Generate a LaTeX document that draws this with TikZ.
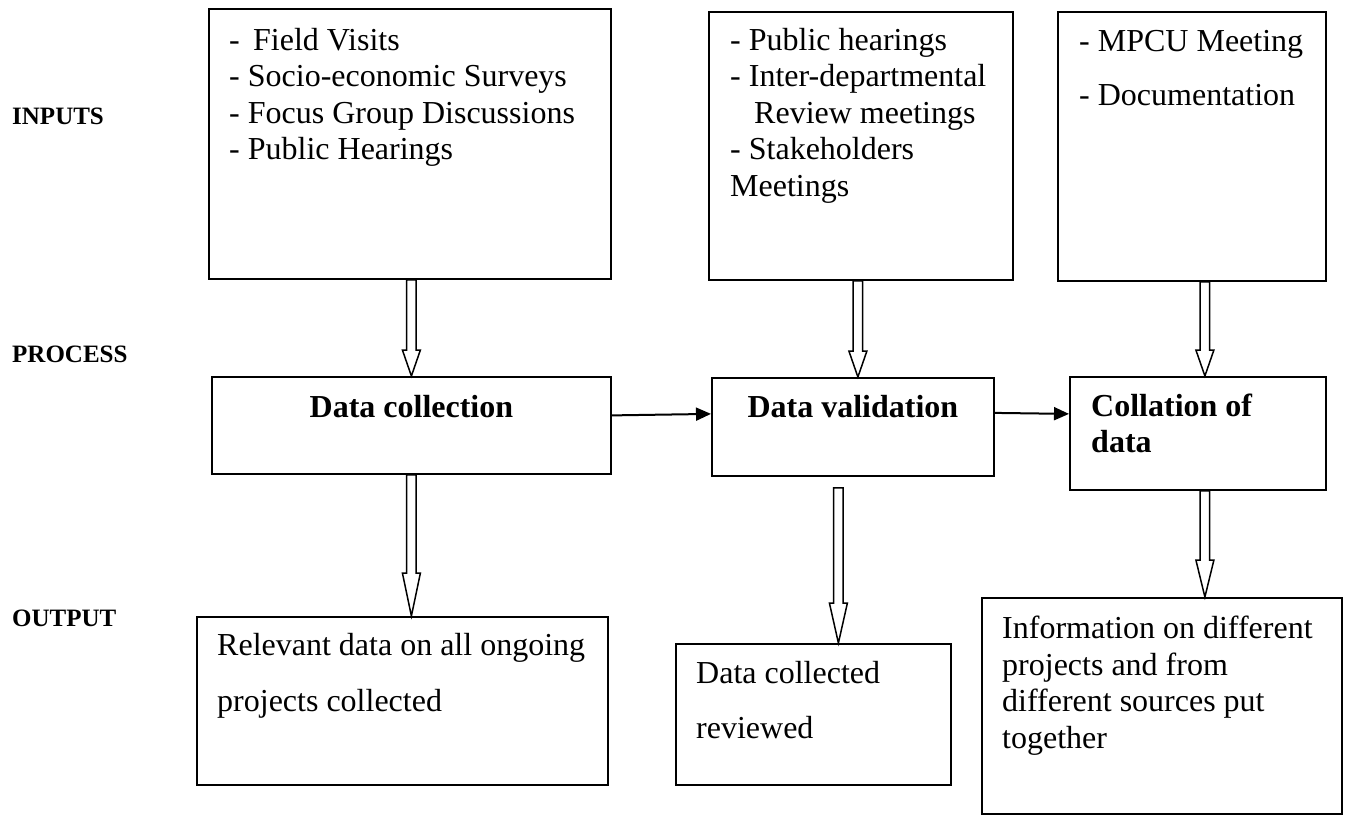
\documentclass[tikz,border=0pt]{standalone}
\usepackage{fontspec}
\setmainfont{Liberation Serif}
\usepackage{pgf,tikz}
\usetikzlibrary{arrows.meta,calc}

\tikzset{
  box/.style={draw, line width=1.8pt, anchor=north west, inner sep=0pt},
  hollow/.style={line width=1.5pt, line join=miter, fill=white},
  txt/.style={anchor=north west, inner sep=0pt, align=left, font=\fontsize{32}{36.5}\selectfont},
  bold/.style={inner sep=0pt, font=\fontsize{32}{36}\selectfont\bfseries},
  lbl/.style={anchor=base west, inner sep=0pt, font=\fontsize{25}{30}\selectfont\bfseries}
}

% open block arrow: #1 start, #2 tip, #3 head length
\newcommand{\blockarrow}[3]{%
  \draw[hollow] let \p1=(#1), \p2=(#2) in
    (\x2-4.8pt,\y1) -- (\x2-4.8pt,\y2+#3) -- (\x2-9pt,\y2+#3) -- (\x2,\y2)
    -- (\x2+9pt,\y2+#3) -- (\x2+4.8pt,\y2+#3) -- (\x2+4.8pt,\y1) -- cycle;}

\begin{document}
\begin{tikzpicture}[x=1pt,y=-1pt,>={Triangle[length=15pt,width=13pt]}]
\useasboundingbox (0,0) rectangle (1347,817);
% row labels
\node[lbl] (inputs) at (12,124) {INPUTS};
\node[lbl] (process) at (12,362) {PROCESS};
\node[lbl] (output) at (12,626) {OUTPUT};
% inputs
\node[box, minimum width=402pt, minimum height=270pt] (in1) at (208,8) {};
\node[box, minimum width=304pt, minimum height=268pt] (in2) at (708,11) {};
\node[box, minimum width=268pt, minimum height=269pt] (in3) at (1057,11) {};
\node[txt] (in1txt) at (229,28) {- \,Field Visits\\- Socio-economic Surveys\\- Focus Group Discussions\\- Public Hearings};
\node[txt] (in2txt) at (730,28) {- Public hearings\\- Inter-departmental\\\hspace*{24pt}Review meetings\\- Stakeholders\\Meetings};
\node[txt, font=\fontsize{32}{54}\selectfont] (in3txt) at (1079,30) {- MPCU Meeting\\- Documentation};
% process
\node[box, minimum width=399pt, minimum height=97pt] (p1) at (211,376) {};
\node[box, minimum width=282pt, minimum height=98pt] (p2) at (711,377) {};
\node[box, minimum width=256pt, minimum height=113pt] (p3) at (1069,376) {};
\node[bold, anchor=base] (p1txt) at ($(p1.north)+(0,41)$) {Data collection};
\node[bold, anchor=base] (p2txt) at ($(p2.north)+(0,40)$) {Data validation};
\node[bold, anchor=north west, align=left] (p3txt) at ($(p3.north west)+(22,18)$) {Collation of\\data};
% outputs
\node[box, minimum width=411pt, minimum height=168pt] (out1) at (196,616) {};
\node[box, minimum width=275pt, minimum height=141pt] (out2) at (675,643) {};
\node[box, minimum width=360pt, minimum height=216pt] (out3) at (981,597) {};
\node[txt, font=\fontsize{32}{56}\selectfont] (out1txt) at ($(out1.north west)+(21,17)$) {Relevant data on all ongoing\\projects collected};
\node[txt, font=\fontsize{32}{55}\selectfont] (out2txt) at ($(out2.north west)+(21,18)$) {Data collected\\reviewed};
\node[txt] (out3txt) at ($(out3.north west)+(21,19)$) {Information on different\\projects and from\\different sources put\\together};
% arrows
\blockarrow{in1.south}{p1.north}{26pt}
\blockarrow{in2.south}{$(p2.north)+(5,0)$}{26pt}
\blockarrow{in3.south}{$(p3.north)+(7,0)$}{26pt}
\draw[->, line width=2pt] ([yshift=10pt]p1.east) -- ([yshift=13pt]p2.west);
\draw[->, line width=2pt] ([yshift=14pt]p2.east) -- ([yshift=19.5pt]p3.west);
\blockarrow{p1.south}{$(out1.north)+(9,0)$}{43pt}
\blockarrow{$(p2.south)+(0,11)$}{$(out2.north)+(25,0)$}{40pt}
\blockarrow{p3.south}{$(out3.north)+(43,0)$}{37pt}
\end{tikzpicture}
\end{document}
